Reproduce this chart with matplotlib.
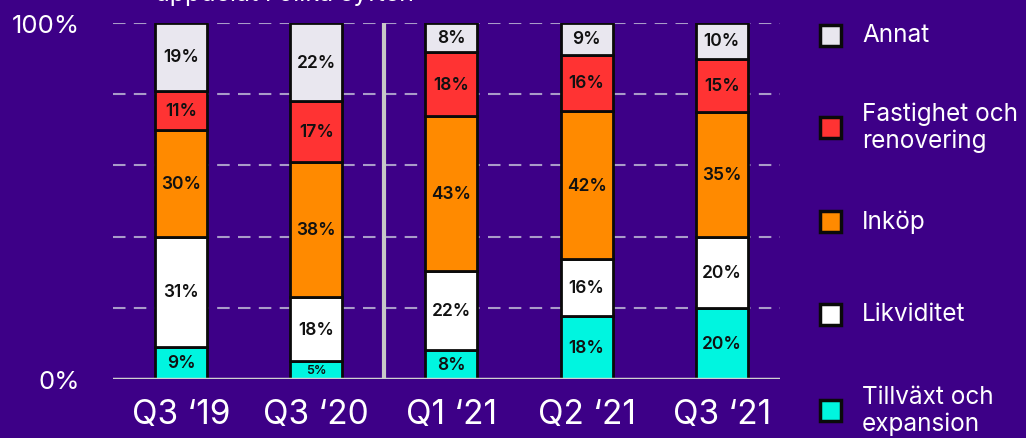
import matplotlib
matplotlib.use("Agg")
import matplotlib.pyplot as plt
import matplotlib.patches as mpatches
import numpy as np

plt.rcParams['font.family'] = ['Inter', 'DejaVu Sans']

categories = ["Q3 \u201819", "Q3 \u201820", "Q1 \u201821", "Q2 \u201821", "Q3 \u201821"]
series_names = ["Tillväxt och\nexpansion", "Likviditet", "Inköp", "Fastighet och\nrenovering", "Annat"]
tillvaxt = [9, 5, 8, 18, 20]
likviditet = [31, 18, 22, 16, 20]
inkop = [30, 38, 43, 42, 35]
fastighet = [11, 17, 18, 16, 15]
annat = [19, 22, 8, 9, 10]
colors = ["#00f5e0", "#ffffff", "#ff8a00", "#ff3333", "#e9e7ef"]
yticks = [0, 100]
ytick_labels = ["0%", "100%"]

BG = "#3d0087"
fig = plt.figure(figsize=(10.26, 4.39), dpi=100)
fig.patch.set_facecolor(BG)
ax = fig.add_axes([113/1026, 59/439, (780-113)/1026, (380-24)/439])
ax.set_facecolor(BG)

data = np.array([tillvaxt, likviditet, inkop, fastighet, annat], dtype=float)
totals = data.sum(axis=0)
heights = data / totals * 100
x = np.arange(len(categories))
width = 0.385

for gy in [20, 40, 60, 80, 100]:
    ax.axhline(gy, color="#a99bc9", lw=1.5, ls=(0, (6, 4)), zorder=1)

bottom = np.zeros(len(categories))
for i in range(len(series_names)):
    ax.bar(x, heights[i], width, bottom=bottom, color=colors[i],
           edgecolor="#0a0a0a", linewidth=2, zorder=3)
    for j in range(len(categories)):
        val = data[i, j]
        fs = 9 if val < 6 else 12.5
        ax.text(x[j], bottom[j] + heights[i, j] / 2, f"{int(val)}%",
                ha="center", va="center", fontsize=fs, color="#111111",
                fontweight="semibold", zorder=4)
    bottom += heights[i]

ax.axvline(1.5, color="#c8c8c8", lw=3, zorder=2)
ax.axhline(0, color="#d0d0d0", lw=2.5, zorder=5)

ax.set_xlim(-0.503, 4.43)
ax.set_ylim(0, 100)
ax.set_xticks(x)
ax.set_xticklabels(categories, fontsize=24, color="white")
ax.set_yticks(yticks)
ax.set_yticklabels(ytick_labels, fontsize=18.5, color="white")
ax.tick_params(axis="both", length=0)
ax.tick_params(axis="x", pad=14)
ax.tick_params(axis="y", pad=24)
for s in ax.spines.values():
    s.set_visible(False)

# Legend (top to bottom)
leg_y = [36, 128, 222, 315, 411]
for k, idx in enumerate([4, 3, 2, 1, 0]):
    yc = 1 - leg_y[k] / 439
    sq = mpatches.Rectangle((820/1026, yc - 11/439), 21/1026, 21/439,
                            transform=fig.transFigure, facecolor=colors[idx],
                            edgecolor="#0a0a0a", linewidth=2.5)
    fig.patches.append(sq)
    fig.text(862/1026, yc, series_names[idx], color="white", fontsize=17.5,
             va="center", ha="left", linespacing=1.2)

fig.text(155/1026, 1 - 1/439, "uppdelat i olika syften", color="white",
         fontsize=18, va="baseline", ha="left")

fig.savefig("out.png", dpi=100, facecolor=BG)
